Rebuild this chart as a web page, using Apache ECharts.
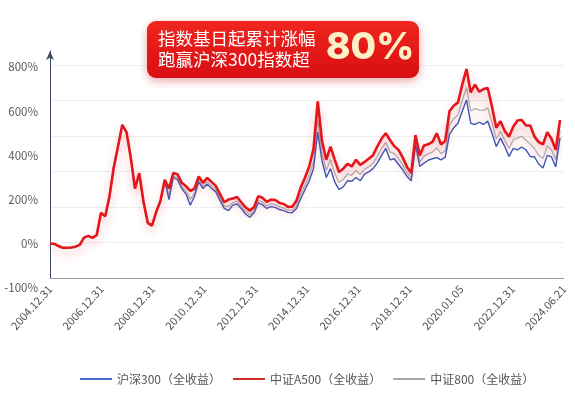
<!DOCTYPE html>
<html>
<head>
<meta charset="utf-8">
<script src="https://cdn.jsdelivr.net/npm/echarts@6/dist/echarts.min.js"></script>
<style>
  html, body { margin: 0; padding: 0; background: #fff; }
  #chart { width: 575px; height: 397px; }
</style>
</head>
<body>
<div id="chart"></div>
<script>
// tick labels
const dateLabels = ['2004.12.31', '2006.12.31', '2008.12.31', '2010.12.31', '2012.12.31', '2014.12.31',
  '2016.12.31', '2018.12.31', '2020.01.05', '2022.12.31', '2024.06.21']
const yTickValues = [-200, 0, 200, 400, 600, 800]
const yTickLabels = ['-100%', '0%', '200%', '400%', '600%', '800%']

// cumulative return (%), ~2 month steps
const csiA500 = [0, 0, -10, -18, -18, -17, -13, -5, 28, 36, 27, 40, 140, 125, 215, 345, 440, 538, 505, 390,
  250, 320, 190, 95, 82, 145, 195, 290, 250, 320, 315, 276, 260, 240, 250, 305, 276, 298, 280, 262,
  225, 188, 200, 205, 212, 188, 165, 150, 165, 215, 208, 190, 200, 198, 185, 180, 167, 168, 195, 255,
  300, 350, 430, 645, 465, 380, 440, 380, 325, 340, 362, 350, 380, 357, 370, 385, 400, 440, 475, 500,
  470, 442, 425, 390, 348, 320, 492, 400, 445, 450, 461, 500, 450, 465, 600, 625, 640, 720, 791, 685,
  720, 688, 700, 705, 620, 525, 555, 510, 485, 530, 558, 560, 535, 535, 485, 460, 450, 505, 475, 425, 560]

const hs300 = [0, 0, -10, -18, -18, -17, -13, -5, 28, 36, 27, 40, 140, 125, 215, 345, 440, 538, 505, 390,
  250, 320, 190, 95, 82, 145, 195, 285, 200, 300, 290, 250, 225, 175, 215, 280, 250, 270, 250, 235,
  195, 160, 150, 175, 180, 160, 135, 120, 140, 185, 176, 160, 168, 165, 155, 150, 142, 140, 160, 205,
  245, 285, 340, 505, 375, 300, 340, 280, 245, 258, 285, 283, 300, 285, 315, 325, 340, 365, 400, 432,
  380, 385, 360, 335, 305, 285, 447, 350, 365, 378, 385, 390, 380, 392, 495, 525, 545, 600, 651, 545,
  540, 550, 540, 555, 500, 440, 478, 440, 395, 432, 425, 438, 425, 395, 393, 360, 343, 400, 393, 348, 479]

const csi800 = [0, 0, -10, -18, -18, -17, -13, -5, 28, 36, 27, 40, 140, 125, 215, 345, 440, 538, 505, 390,
  250, 320, 190, 95, 82, 145, 195, 288, 220, 308, 300, 260, 239, 201, 229, 290, 260, 281, 262, 246,
  207, 171, 170, 187, 193, 171, 147, 132, 150, 197, 189, 172, 181, 178, 167, 162, 152, 151, 174, 225,
  267, 311, 372, 561, 411, 332, 380, 320, 277, 291, 316, 310, 332, 314, 337, 349, 364, 395, 430, 459,
  416, 408, 386, 357, 322, 299, 465, 370, 397, 407, 415, 434, 408, 421, 537, 565, 583, 648, 707, 601,
  612, 605, 604, 615, 548, 474, 509, 468, 431, 471, 478, 487, 469, 451, 430, 400, 386, 442, 426, 379, 511]

const seriesNames = ['沪深300（全收益）', '中证A500（全收益）', '中证800（全收益）']

const chart = echarts.init(document.getElementById('chart'))
const idx = csiA500.map((_, i) => i)
const gap = csiA500.map((v, i) => v - hs300[i])
const font = '"Noto Sans CJK SC", "Noto Sans", sans-serif'

const option = {
  animation: false,
  textStyle: { fontFamily: font },
  grid: [
    { left: 50, right: 15, top: 67, height: 221, outerBoundsMode: 'none' },
    { left: 50, right: 11, top: 51, height: 227, outerBoundsMode: 'none' }
  ],
  xAxis: [
    { type: 'category', gridIndex: 0, data: idx, boundaryGap: false, show: false },
    {
      type: 'category', gridIndex: 1, data: dateLabels, boundaryGap: false,
      axisLine: { lineStyle: { color: '#9a9a9a', width: 1 } },
      axisTick: { show: false },
      axisLabel: { rotate: 48, interval: 0, margin: 9, color: '#555', fontSize: 11 },
      splitLine: { show: false }
    }
  ],
  yAxis: [
    {
      type: 'value', gridIndex: 0, min: -200, max: 800, interval: 200,
      axisLine: { show: false }, axisTick: { show: false }, splitLine: { show: false },
      axisLabel: {
        margin: 12, color: '#5a5a5a', fontSize: 11.5,
        formatter: v => yTickLabels[yTickValues.indexOf(v)]
      }
    },
    {
      type: 'value', gridIndex: 1, min: 0, max: 6.4, interval: 1,
      axisLabel: { show: false }, axisTick: { show: false },
      axisLine: {
        show: true, symbol: ['none', 'arrow'], symbolSize: [6, 9],
        lineStyle: { color: '#3e4c63', width: 1 }
      },
      splitLine: { show: true, showMaxLine: false, lineStyle: { color: '#eeeeee', width: 1 } }
    }
  ],
  legend: {
    left: 75, top: 368,
    data: seriesNames,
    icon: 'rect', itemWidth: 32, itemHeight: 2, itemGap: 12,
    textStyle: { color: '#555', fontSize: 12 }
  },
  graphic: [
    {
      type: 'rect', left: 147, top: 21, z: 100,
      shape: { width: 272, height: 57, r: 9 },
      style: {
        fill: new echarts.graphic.LinearGradient(0, 0, 0, 1, [
          { offset: 0, color: '#f0261f' },
          { offset: 1, color: '#d80e12' }
        ]),
        shadowColor: 'rgba(200,0,0,0.35)', shadowBlur: 10, shadowOffsetY: 3
      }
    },
    {
      type: 'text', left: 158, top: 30, z: 101,
      style: { text: '指数基日起累计涨幅', fill: '#fff', fontSize: 17.5, fontFamily: font }
    },
    {
      type: 'text', left: 158, top: 51, z: 101,
      style: { text: '跑赢沪深300指数超', fill: '#fff', fontSize: 17.5, fontFamily: font }
    },
    {
      type: 'text', left: 326, top: 29, z: 101,
      style: {
        text: '80%', fill: '#fdefc6', fontSize: 37, fontWeight: 800, fontFamily: 'Inter, sans-serif',
        shadowColor: 'rgba(120,0,0,0.4)', shadowBlur: 3, shadowOffsetY: 1
      }
    }
  ],
  series: [
    {
      name: seriesNames[0], type: 'line', xAxisIndex: 0, yAxisIndex: 0, data: hs300,
      showSymbol: false, z: 3, color: '#4a6bd0',
      lineStyle: { width: 1.4, color: '#3f56b8' }
    },
    {
      name: seriesNames[1], type: 'line', xAxisIndex: 0, yAxisIndex: 0, data: csiA500,
      showSymbol: false, z: 5, color: '#d42a2a',
      lineStyle: {
        width: 2.6, color: '#e4161c',
        shadowColor: 'rgba(220,30,30,0.3)', shadowBlur: 8, shadowOffsetY: 5
      }
    },
    {
      name: seriesNames[2], type: 'line', xAxisIndex: 0, yAxisIndex: 0, data: csi800,
      showSymbol: false, z: 2, color: '#a8a8a8',
      lineStyle: { width: 1.3, color: '#b0b0b0' }
    },
    {
      type: 'line', xAxisIndex: 0, yAxisIndex: 0, data: hs300, stack: 'band',
      showSymbol: false, silent: true, z: 1, lineStyle: { opacity: 0 }
    },
    {
      type: 'line', xAxisIndex: 0, yAxisIndex: 0, data: gap, stack: 'band',
      showSymbol: false, silent: true, z: 1, lineStyle: { opacity: 0 },
      areaStyle: { color: 'rgba(235,130,145,0.11)' }
    }
  ]
}

chart.setOption(option)
</script>
</body>
</html>
